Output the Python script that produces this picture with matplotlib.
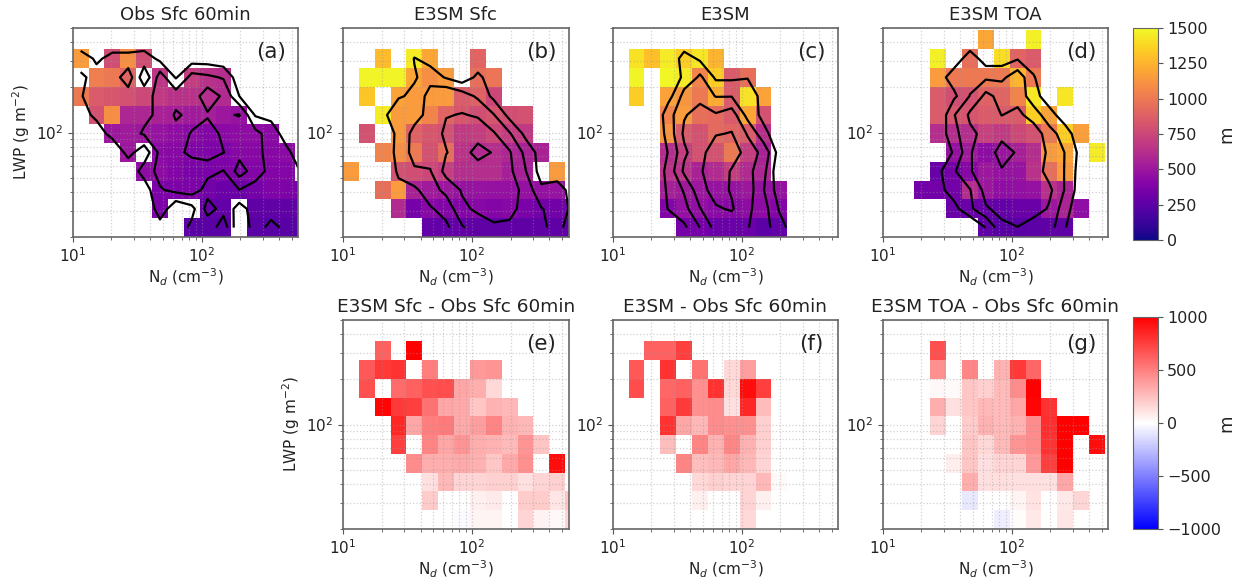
import numpy as np
import matplotlib
matplotlib.use("Agg")
import matplotlib.pyplot as plt
from matplotlib.ticker import LogLocator, NullFormatter

n = np.nan

# bin edges
ndEdges = [10, 13.28, 17.63, 23.41, 31.09, 41.29, 54.83, 72.81, 96.69, 128.4, 170.5, 226.4, 300.7, 399.3, 530.3, 704]
lwpEdges = [20, 26.7, 35.67, 47.63, 63.6, 84.94, 113.4, 151.5, 202.3, 270.1, 360.7, 481.7]

# cloud base height per bin (m), first row is the highest LWP bin
cbhObs = [
    [n]*15,
    [1150, n, 780, 1100, 780, n, n, n, n, n, n, n, n, n, n],
    [n, 1020, 1000, 900, n, 660, n, 700, 640, 620, n, n, n, n, n],
    [1000, 850, 830, 800, 760, 680, 640, 640, 620, 600, n, n, n, n, n],
    [n, 800, 1100, 580, 580, 560, 540, 520, 540, 500, 480, n, n, n, n],
    [n, n, 500, 520, 500, 480, 450, 430, 400, 430, 440, 450, 430, n, n],
    [n, n, n, 500, n, 430, 420, 390, 380, 380, 420, 420, 420, 430, n],
    [n, n, n, n, 440, 440, 400, 360, 360, 380, 380, 400, 400, 400, n],
    [n, n, n, n, n, 370, 370, 370, 330, 310, 310, 340, 380, 370, 350],
    [n, n, n, n, n, 370, n, n, 270, 280, n, 260, 260, 260, 260],
    [n, n, n, n, n, n, n, 250, 240, 240, n, 240, 230, 230, 240],
]
cbhSfc = [
    [n]*15,
    [n, n, 1280, n, 1450, 1200, n, n, 900, n, n, n, n, n, n],
    [n, 1480, 1480, 1480, 1200, 1100, 1150, n, 950, 980, n, n, n, n, n],
    [n, 1320, n, 1180, 1150, 1150, 1150, 850, 880, 750, n, n, n, n, n],
    [n, n, 1450, 1150, 1150, 1050, 900, 830, 780, 820, 780, 800, n, n, n],
    [n, 800, n, 1150, 880, 830, 800, 680, 700, 750, 700, 680, n, n, n],
    [n, n, 1050, 1100, 1000, 800, 950, 650, 600, 620, 580, 560, 560, n, n],
    [1150, n, n, 800, 780, 750, 700, 620, 620, 620, 540, 550, n, 1150, n],
    [n, n, 950, 1150, 560, 520, 500, 480, 480, 470, 470, 470, 470, 480, n],
    [n, n, n, 600, 350, 420, 400, 400, 420, 400, 420, 360, 330, 330, 330],
    [n, n, n, n, n, 280, 270, 270, 260, 260, 260, 260, 260, 260, 260],
]
cbhE3sm = [
    [n]*15,
    [n, 1420, 1300, 1450, 1350, 1430, 1250, n, n, n, n, n, n, n, n],
    [n, 1480, n, 1490, 1450, 1050, 1350, 850, 950, n, n, n, n, n, n],
    [n, 1350, n, 1180, 1130, 1000, 1220, 850, 1420, 1180, n, n, n, n, n],
    [n, n, n, 1050, 1150, 950, 930, 850, 1200, 800, n, n, n, n, n],
    [n, n, n, 1130, 850, 800, 920, 900, 850, 630, n, n, n, n, n],
    [n, n, n, 620, 700, 800, 800, 1000, 700, 560, n, n, n, n, n],
    [n, n, n, 650, 650, 560, 600, 700, 600, 580, n, n, n, n, n],
    [n, n, n, 550, 520, 500, 480, 480, 500, 470, 470, n, n, n, n],
    [n, n, n, 400, 470, 460, 430, 420, 440, 440, 400, n, n, n, n],
    [n, n, n, n, 350, 350, 300, 300, 300, 250, 280, n, n, n, n],
]
cbhToa = [
    [n, n, n, n, n, n, 1200, n, n, 1470, n, n, n, n, n],
    [n, n, n, 1470, n, 950, n, 1400, 900, 850, n, n, n, n, n],
    [n, n, n, 1150, 1000, 1000, 1000, 1000, 1250, 1000, n, n, n, n, n],
    [n, n, n, 850, 780, 800, 880, 900, 1050, 1430, n, 1430, n, n, n],
    [n, n, n, 850, 830, 820, 850, 850, 850, 1350, 1180, n, n, n, n],
    [n, n, n, 620, 620, 620, 720, 680, 760, 800, 1000, 1350, 1170, n, n],
    [n, n, n, n, 470, 520, 440, 490, 550, 620, 1150, 1200, n, 1450, n],
    [n, n, n, 300, 350, 420, 500, 470, 480, 640, 950, 1150, n, n, n],
    [n, n, 330, 330, 330, 620, 500, 450, 460, 470, 640, 570, n, n, n],
    [n, n, n, n, 300, 300, 290, 280, 300, 300, 500, 570, 450, n, n],
    [n, n, n, n, n, n, 260, 240, 240, 250, 260, 260, n, n, n],
]

# sample density per bin (arbitrary units), drawn as contours
densObs = [
    [0]*15,
    [1.6, .8, 1.4, 1.4, 1.6, .7, 0, .4, .4, .2, 0, 0, 0, 0, 0],
    [.8, 1.4, 1.6, 2.5, .3, 2.5, .9, 2.4, 2.2, 1.9, .3, 0, 0, 0, 0],
    [.95, 1.4, 1.5, 1.6, 1.7, 2.3, 2.5, 2.5, 3.6, 2.8, 1.0, .2, 0, 0, 0],
    [.7, 1.2, 1.5, 1.6, 1.8, 2.2, 3.15, 2.7, 2.9, 2.9, 3.05, .9, .7, 0, 0],
    [.1, .6, 1.3, 1.7, 2.1, 2.4, 2.7, 3.05, 3.4, 2.8, 2.5, 2.3, 1.5, .5, 0],
    [0, 0, .3, 1.3, .4, 2.3, 2.7, 3.3, 3.6, 3.02, 2.6, 2.3, 1.6, 1.2, .3],
    [0, 0, 0, .4, 1.4, 2.4, 2.4, 2.3, 2.3, 1.95, 3.5, 2.4, 1.7, 1.8, .8],
    [0, 0, 0, 0, .5, 1.9, 2.3, 2.5, 1.6, 1.4, 1.98, 1.7, 1.6, 1.6, 1.5],
    [0, 0, 0, 0, 0, 1.6, .2, .7, 2.4, 1.6, .6, 1.5, 1.5, 1.5, 1.5],
    [0, 0, 0, 0, 0, .6, .5, 1.2, 1.4, 2.6, 0, 1.6, 2.3, 1.7, 1.6],
]
densSfc = [
    [0]*15,
    [0, 0, 0, 0, 1.05, .6, 0, 0, 0, 0, 0, 0, 0, 0, 0],
    [0, 0, 0, .1, .9, 1.5, .9, .3, 1.3, .2, 0, 0, 0, 0, 0],
    [0, 0, .2, .9, 1.2, 2.5, 2.9, 2.5, 1.8, .7, .1, 0, 0, 0, 0],
    [0, 0, .8, 1.6, 1.6, 2.4, 2.95, 3.05, 2.9, 2.05, .6, .1, 0, 0, 0],
    [0, 0, 0, 1.4, 2.3, 2.5, 3.2, 3.3, 3.5, 3.1, 2.1, .7, 0, 0, 0],
    [0, 0, 0, 1.5, 2.3, 2.4, 2.95, 3.6, 4.4, 3.9, 3.1, 1.7, .5, 0, 0],
    [0, 0, 0, 1.2, 1.9, 1.95, 3.4, 3.5, 3.5, 3.5, 3.2, 2.05, .5, .2, 0],
    [0, 0, 0, .7, .8, 1.6, 2.3, 3.1, 3.5, 3.6, 3.5, 2.6, 1.2, 1.6, .4],
    [0, 0, 0, 0, 0, .9, 1.4, 2.8, 3.2, 3.6, 3.5, 2.3, 2.05, 1.6, .7],
    [0, 0, 0, 0, 0, 0, .8, 1.9, 2.5, 2.8, 2.7, 2.4, 2.4, 1.2, .6],
]
densE3sm = [
    [0]*15,
    [0, 0, 0, .1, 1.5, .8, 0, 0, 0, 0, 0, 0, 0, 0, 0],
    [0, 0, 0, .3, 1.2, 2.2, .8, .8, .95, .1, 0, 0, 0, 0, 0],
    [0, 0, 0, .6, 2.4, 2.6, 1.95, 1.95, 1.6, .6, 0, 0, 0, 0, 0],
    [0, 0, 0, 1.6, 2.9, 3.5, 3.1, 3.5, 1.6, .7, 0, 0, 0, 0, 0],
    [0, 0, 0, 1.4, 3.2, 3.7, 3.95, 4.05, 2.9, 1.3, .3, 0, 0, 0, 0],
    [0, 0, 0, 1.05, 2.8, 3.8, 4.4, 4.6, 3.5, 2.7, .5, 0, 0, 0, 0],
    [0, 0, 0, 1.4, 3.2, 3.9, 4.6, 3.9, 3.3, 2.3, .1, 0, 0, 0, 0],
    [0, 0, 0, 1.2, 2.1, 3.7, 4.4, 3.9, 3.5, 2.05, .4, 0, 0, 0, 0],
    [0, 0, 0, 1.05, 1.7, 2.95, 3.9, 4.1, 3.2, 2.4, .9, .2, 0, 0, 0],
    [0, 0, 0, 0, .8, 2.02, 3.4, 3.4, 3.05, 2.4, 1.4, .4, 0, 0, 0],
]
densToa = [
    [0]*15,
    [0, 0, 0, 0, .4, 1.6, .4, .4, .9, .4, 0, 0, 0, 0, 0],
    [0, 0, 0, .6, 1.5, 1.5, 1.8, 1.8, 2.6, 1.1, 0, 0, 0, 0, 0],
    [0, 0, 0, .3, .8, 2.05, 3.3, 2.6, 2.5, 1.5, .2, 0, 0, 0, 0],
    [0, 0, 0, .2, 1.95, 3.2, 3.5, 2.98, 3.3, 2.4, 1.5, .2, 0, 0, 0],
    [0, 0, 0, .4, 1.7, 2.8, 3.3, 3.6, 3.7, 3.7, 2.3, 1.6, 0, 0, 0],
    [0, 0, 0, .4, 1.1, 2.95, 3.4, 4.5, 3.85, 3.3, 2.9, 1.95, .6, 0, 0],
    [0, 0, 0, .8, 1.9, 2.95, 3.4, 3.9, 3.6, 3.5, 2.6, 1.95, .4, 0, 0],
    [0, 0, 0, .7, 1.5, 1.95, 3.4, 3.6, 3.6, 3.6, 3.2, 1.9, .3, 0, 0],
    [0, 0, 0, 0, .7, 1.8, 2.9, 3.3, 3.5, 3.4, 2.9, 1.3, .3, 0, 0],
    [0, 0, 0, 0, 0, 0, 1.02, 2.8, 2.98, 2.6, 2.4, 1.05, 0, 0, 0],
]

# differences from the observations (m)
diffSfc = [
    [n]*15,
    [n, n, 620, n, 1000, n, n, n, n, n, n, n, n, n, n],
    [n, 650, 780, 800, n, 500, n, n, 400, 420, n, n, n, n, n],
    [n, 680, n, 580, 620, 680, 700, 350, 320, 150, n, n, n, n, n],
    [n, n, 980, 780, 750, 550, 350, 330, 220, 300, 280, n, n, n, n],
    [n, n, n, 850, 350, 500, 520, 330, 380, 480, 300, 280, n, n, n],
    [n, n, n, 750, n, 480, 350, 420, 320, 300, 270, 420, 230, n, n],
    [n, n, n, n, 450, 320, 320, 330, 310, 220, 330, 430, n, 950, n],
    [n, n, n, n, n, 120, 280, 170, 170, 180, 180, 120, 170, 180, n],
    [n, n, n, n, n, 200, n, n, 60, 80, n, 200, 200, 100, 230],
    [n, n, n, n, n, n, n, -20, 40, 40, n, 170, 50, 30, 170],
]
diffE3sm = [
    [n]*15,
    [n, n, 620, 620, 750, n, n, n, n, n, n, n, n, n, n],
    [n, 650, n, 800, n, 550, n, 150, 380, n, n, n, n, n, n],
    [n, 700, n, 600, 620, 430, 800, 150, 950, 750, n, n, n, n, n],
    [n, n, n, 620, 770, 430, 450, 120, 850, 260, n, n, n, n, n],
    [n, n, n, 800, 350, 280, 450, 430, 430, 180, n, n, n, n, n],
    [n, n, n, 250, n, 480, 300, 470, 300, 180, n, n, n, n, n],
    [n, n, n, n, 480, 250, 280, 350, 280, 170, n, n, n, n, n],
    [n, n, n, n, n, 150, 180, 170, 170, 280, 20, n, n, n, n],
    [n, n, n, n, n, 60, n, n, 170, 60, n, n, n, n, n],
    [n, n, n, n, n, n, n, n, 150, n, n, n, n, n, n],
]
diffToa = [
    [n]*15,
    [n, n, n, 680, n, n, n, n, n, n, n, n, n, n, n],
    [n, n, n, 430, n, 470, n, 300, 780, 600, n, n, n, n, n],
    [n, n, n, 30, 20, 220, 180, 270, 450, 1000, n, n, n, n, n],
    [n, n, n, 320, 120, 220, 280, 270, 350, 980, 800, n, n, n, n],
    [n, n, n, 170, n, 200, 300, 270, 300, 450, 820, 1000, 1000, n, n],
    [n, n, n, n, n, 220, 150, 270, 420, 450, 800, 1000, n, 950, n],
    [n, n, n, n, 70, 220, 120, 170, 170, 400, 750, 1000, n, n, n],
    [n, n, n, n, n, 320, 120, 130, 120, 120, 120, 350, n, n, n],
    [n, n, n, n, n, -90, n, n, 40, 110, n, 90, 160, n, n],
    [n, n, n, n, n, n, n, -70, 10, 90, n, 100, n, n, n],
]

levels = [1, 2, 3, 4]
W = 1236
H = 584

ndCenters = np.sqrt(np.array(ndEdges[:-1]) * np.array(ndEdges[1:]))
lwpCenters = np.sqrt(np.array(lwpEdges[:-1]) * np.array(lwpEdges[1:]))

fig = plt.figure(figsize=(W/100, H/100), dpi=100)


def addAxes(left, top, right, bottom):
    return fig.add_axes([left/W, 1-bottom/H, (right-left)/W, (bottom-top)/H])


def drawPanel(left, top, data, cmap, vmin, vmax, title, tag, dens=None, ylabel=False, titleSize=13):
    ax = addAxes(left, top, left+225.5, top+209)
    cells = np.array(data, dtype=float)[::-1]
    mesh = ax.pcolormesh(ndEdges, lwpEdges, cells, cmap=cmap, vmin=vmin, vmax=vmax, linewidth=0, rasterized=True)
    if dens is not None:
        ax.contour(ndCenters, lwpCenters, np.array(dens)[::-1], levels=levels, colors='k', linewidths=1.6)
    ax.set_xscale('log')
    ax.set_yscale('log')
    ax.set_xlim(10, 563)
    ax.set_ylim(20, 500)
    ax.yaxis.set_major_locator(LogLocator(base=10, subs=[1.0], numticks=5))
    ax.yaxis.set_minor_locator(LogLocator(base=10, subs=np.arange(2, 10), numticks=12))
    ax.yaxis.set_minor_formatter(NullFormatter())
    ax.xaxis.set_minor_formatter(NullFormatter())
    ax.grid(which='both', color='#999999', alpha=0.45, linestyle=':', linewidth=0.9)
    ax.tick_params(which='both', color='#555555', labelsize=11, labelcolor='#222222')
    for s in ax.spines.values():
        s.set_color('#666666')
        s.set_linewidth(1.2)
    ax.set_title(title, fontsize=titleSize, color='#222222', pad=6)
    ax.set_xlabel('N$_d$ (cm$^{-3}$)', fontsize=11, color='#222222', labelpad=1)
    if ylabel:
        ax.set_ylabel('LWP (g m$^{-2}$)', fontsize=11, color='#222222', labelpad=3)
    ax.text(0.88, 0.885, tag, transform=ax.transAxes, fontsize=15.5, color='#222222', ha='center', va='center')
    return mesh


def drawBar(mesh, top, bottom, ticks):
    cax = addAxes(1132.5, top, 1157.5, bottom)
    cb = fig.colorbar(mesh, cax=cax)
    cb.set_ticks(ticks)
    cb.ax.tick_params(labelsize=11.5, color='#555555', labelcolor='#222222')
    cb.outline.set_edgecolor('#666666')
    cb.set_label('m', fontsize=13, color='#222222')
    cb.ax.yaxis.set_label_coords(3.38, 0.5)


lefts = [72.7, 343, 612.7, 882.7]
top1 = 28
top2 = 320

m1 = drawPanel(lefts[0], top1, cbhObs, 'plasma', 0, 1500, 'Obs Sfc 60min', '(a)', densObs, True)
drawPanel(lefts[1], top1, cbhSfc, 'plasma', 0, 1500, 'E3SM Sfc', '(b)', densSfc)
drawPanel(lefts[2], top1, cbhE3sm, 'plasma', 0, 1500, 'E3SM', '(c)', densE3sm)
drawPanel(lefts[3], top1, cbhToa, 'plasma', 0, 1500, 'E3SM TOA', '(d)', densToa)

m2 = drawPanel(lefts[1], top2, diffSfc, 'bwr', -1000, 1000, 'E3SM Sfc - Obs Sfc 60min', '(e)', None, True, 13.3)
drawPanel(lefts[2], top2, diffE3sm, 'bwr', -1000, 1000, 'E3SM - Obs Sfc 60min', '(f)', titleSize=13.3)
drawPanel(lefts[3], top2, diffToa, 'bwr', -1000, 1000, 'E3SM TOA - Obs Sfc 60min', '(g)', titleSize=13.3)

drawBar(m1, 28, 240, [0, 250, 500, 750, 1000, 1250, 1500])
drawBar(m2, 317, 529, [-1000, -500, 0, 500, 1000])

fig.savefig('out.png', dpi=100)
